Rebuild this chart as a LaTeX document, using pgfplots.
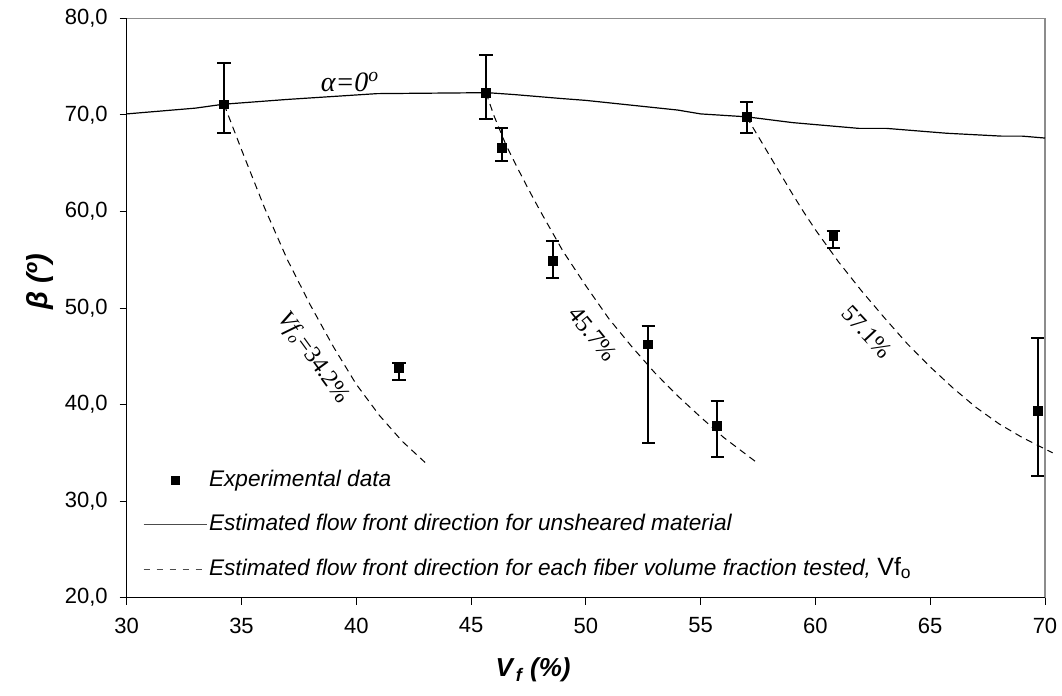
\documentclass[border=0pt]{standalone}
\usepackage{fontspec}
\setmainfont{Liberation Sans}
\newfontfamily\timesf{Liberation Serif}
\usepackage{pgfplots}
\usepackage{pgfplotstable}
\pgfplotsset{compat=1.18}

\pgfplotstableread{
x y ep em
34.24 71.09 4.25 3.00
45.65 72.30 3.90 2.73
46.33 66.54 2.07 1.28
48.55 54.87 2.07 1.73
41.86 43.76 0.51 1.21
52.72 46.24 1.90 10.19
55.72 37.78 2.59 3.18
57.00 69.81 1.55 1.72
60.78 57.46 0.54 1.21
69.68 39.37 7.49 6.74
}\expdata

\pgfplotstableread{
x y
30.0 70.1
33.0 70.7
34.2 71.1
37.0 71.6
40.9 72.2
45.7 72.3
46.9 72.1
48.9 71.7
50.0 71.5
54.0 70.5
55.0 70.1
57.0 69.8
59.0 69.2
61.9 68.6
63.1 68.6
65.7 68.1
68.1 67.8
69.0 67.8
70.0 67.6
}\unsheared

\pgfplotstableread{
x y
34.24 71.09
35.0 66.4
36.0 60.4
37.0 55.0
38.0 50.3
39.0 46.0
40.0 42.1
41.0 38.9
42.0 36.2
43.0 34.0
}\curveA

\pgfplotstableread{
x y
45.65 72.30
46.0 69.9
46.5 67.0
47.0 64.6
47.5 62.3
48.0 60.1
49.0 55.9
50.0 52.3
51.0 48.9
52.0 46.0
53.0 43.3
54.0 40.9
55.0 38.7
56.0 36.6
57.0 34.8
57.5 33.9
}\curveB

\pgfplotstableread{
x y
57.0 69.8
57.5 67.8
58.0 65.8
58.5 63.8
59.0 61.8
59.5 59.9
60.0 58.1
61.0 54.8
62.0 51.8
63.0 49.0
64.0 46.3
65.0 43.9
66.0 41.7
67.0 39.7
68.0 38.0
69.0 36.6
70.0 35.4
70.33 35.0
}\curveC

\begin{document}
\begin{tikzpicture}
\path[use as bounding box] (-63.35pt,-49.15pt) rectangle (467.65pt,298.85pt);
\begin{axis}[
  at={(0,0)}, anchor=south west,
  width=459.15pt, height=289.7pt, scale only axis,
  xmin=30, xmax=70, ymin=20, ymax=80,
  xtick={30,35,...,70}, ytick={20,30,...,80},
  tick align=outside, xtick pos=bottom, ytick pos=left,
  major tick length=3.5pt,
  tick style={black, line width=0.5pt},
  axis line style={draw=black!45, line width=0.7pt},
  clip=false,
  /pgf/number format/assume math mode=true,
  xticklabel style={font=\fontsize{11}{12}\selectfont, yshift=-3pt},
  yticklabel style={font=\fontsize{11}{12}\selectfont, xshift=-2.5pt,
    /pgf/number format/.cd, fixed, fixed zerofill, precision=1, use comma},
  xlabel={\bfseries\itshape V\textsubscript{\,f} (\%)},
  ylabel={\bfseries\itshape β (º)},
  xlabel style={at={(axis description cs:0.4425,-0.124)}, anchor=center, font=\fontsize{13}{14}\selectfont},
  ylabel style={at={(axis description cs:-0.0944,0.545)}, anchor=center, font=\fontsize{14.5}{16}\selectfont},
  legend style={draw=none, fill=none, at={(0,0)}, anchor=south west,
    xshift=8pt, yshift=7.5pt, inner sep=0pt, row sep=9.3pt,
    font=\itshape\fontsize{11.3}{12}\selectfont,
    nodes={inner sep=1pt, text height=8.5pt, text depth=2.5pt},
    /tikz/every even column/.append style={column sep=6pt}},
  legend cell align=left,
]
\addlegendimage{legend image code/.code={\path (0pt,0pt) (31.5pt,0pt);
  \draw[black, mark=square*, mark size=2pt] plot[only marks] coordinates {(15.75pt,0pt)};}}
\addlegendentry{Experimental data}
\addlegendimage{legend image code/.code={\draw[black!70, line width=0.5pt] (0pt,0pt) -- (31.5pt,0pt);}}
\addlegendentry{Estimated flow front direction for unsheared material}
\addlegendimage{legend image code/.code={\draw[black!70, line width=0.5pt, dash pattern=on 3pt off 3.5pt] (0pt,0pt) -- (31.5pt,0pt);}}
\addlegendentry{Estimated flow front direction for each fiber volume fraction tested, {\upshape\fontsize{12.5}{12}\selectfont Vf\textsubscript{o}}}

\addplot[black, line width=0.6pt, forget plot] table[x=x,y=y] {\unsheared};
\addplot[black, line width=0.5pt, dash pattern=on 3.5pt off 2.5pt, forget plot] table[x=x,y=y] {\curveA};
\addplot[black, line width=0.5pt, dash pattern=on 3.5pt off 2.5pt, forget plot] table[x=x,y=y] {\curveB};
\addplot[black, line width=0.5pt, dash pattern=on 3.5pt off 2.5pt, forget plot] table[x=x,y=y] {\curveC};

\addplot[black, only marks, mark=square*, mark size=2.2pt, forget plot,
  error bars/.cd, y dir=both, y explicit,
  error bar style={line width=1pt, black},
  error mark options={line width=1pt, mark size=3.3pt, black, rotate=90}]
  table[x=x, y=y, y error plus=ep, y error minus=em] {\expdata};

\draw[black, line width=0.6pt] (rel axis cs:0,1) -- (rel axis cs:0,0) -- (rel axis cs:1,0);

\node[rotate=-54, font=\timesf\fontsize{12}{12}\selectfont] at (axis cs:38.12,44.79) {\itshape Vf\textsubscript{o}\upshape=34.2\%};
\node[rotate=-51, font=\timesf\fontsize{12}{12}\selectfont] at (axis cs:50.31,47.31) {45.7\%};
\node[rotate=-47, font=\timesf\fontsize{12}{12}\selectfont] at (axis cs:62.25,47.55) {57.1\%};
\node[font=\timesf\itshape\fontsize{14}{14}\selectfont] at (axis cs:39.73,73.43) {α=0\textsuperscript{o}};
\end{axis}
\end{tikzpicture}
\end{document}
